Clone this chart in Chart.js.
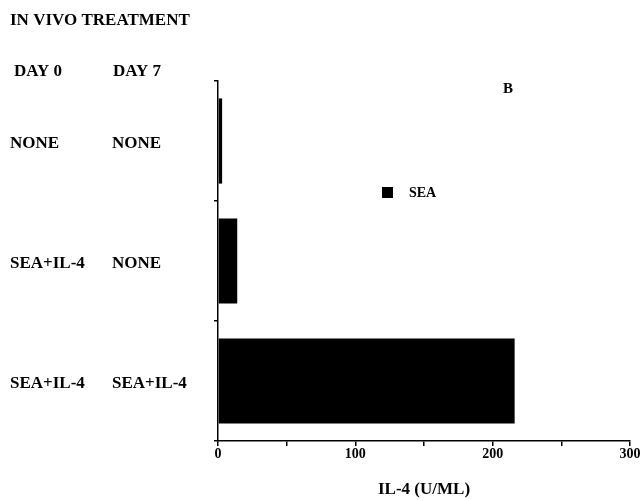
<!DOCTYPE html>
<html>
<head>
<meta charset="utf-8">
<script src="https://cdn.jsdelivr.net/npm/chart.js@4.4.1/dist/chart.umd.min.js"></script>
<style>
html,body{margin:0;padding:0;background:#fff;}
#wrap{width:641px;height:501px;position:relative;}
</style>
</head>
<body>
<div id="wrap"><canvas id="c" width="641" height="501"></canvas></div>
<script>
// ---- data ----
const headerTitle = 'IN VIVO TREATMENT';
const columnHeaders = ['DAY 0', 'DAY 7'];
const dayZero = ['NONE', 'SEA+IL-4', 'SEA+IL-4'];
const daySeven = ['NONE', 'NONE', 'SEA+IL-4'];
const categories = ['NONE / NONE', 'SEA+IL-4 / NONE', 'SEA+IL-4 / SEA+IL-4'];
const seriesName = 'SEA';
const il4Values = [3, 14, 216];
const xTickLabels = [0, 100, 200, 300];
const xAxisTitle = 'IL-4 (U/ML)';
const panelLabel = 'B';

const SERIF = '"Liberation Serif", "Times New Roman", serif';
Chart.defaults.font.family = SERIF;
Chart.defaults.color = '#000';

const annotate = {
  id: 'annotate',
  afterDraw(chart) {
    const ctx = chart.ctx;
    const y = chart.scales.y;
    ctx.save();
    ctx.fillStyle = '#000';
    ctx.textBaseline = 'middle';
    ctx.textAlign = 'left';
    ctx.font = 'bold 17px ' + SERIF;
    ctx.fillText(headerTitle, 10, 21);
    ctx.fillText(columnHeaders[0], 14, 72);
    ctx.fillText(columnHeaders[1], 113, 72);
    categories.forEach((c, i) => {
      const py = y.getPixelForValue(i) + 3;
      ctx.fillText(dayZero[i], 10, py);
      ctx.fillText(daySeven[i], 112, py);
    });
    // legend
    const ds = chart.data.datasets[0];
    ctx.fillStyle = ds.backgroundColor;
    ctx.fillRect(382, 187, 11, 11);
    ctx.fillStyle = '#000';
    ctx.font = 'bold 14px ' + SERIF;
    ctx.fillText(ds.label, 409, 193);
    // panel label
    ctx.textAlign = 'center';
    ctx.font = 'bold 15px ' + SERIF;
    ctx.fillText(panelLabel, 508, 89);
    ctx.restore();
  }
};

new Chart(document.getElementById('c'), {
  type: 'bar',
  data: {
    labels: categories,
    datasets: [{
      label: seriesName,
      data: il4Values,
      backgroundColor: '#000',
      borderWidth: 0,
      barPercentage: 0.71,
      categoryPercentage: 1
    }]
  },
  options: {
    indexAxis: 'y',
    responsive: false,
    animation: false,
    devicePixelRatio: 1,
    layout: { padding: { left: 218, top: 81, right: 11, bottom: 0 } },
    plugins: { legend: { display: false }, tooltip: { enabled: false } },
    scales: {
      x: {
        type: 'linear',
        min: 0,
        max: 300,
        afterFit: s => { s.height = 60; },
        ticks: {
          stepSize: 50,
          autoSkip: false,
          maxRotation: 0,
          padding: 0,
          font: { size: 14, weight: 'bold' },
          color: '#000',
          callback: v => xTickLabels.includes(v) ? String(v) : ''
        },
        grid: { drawOnChartArea: false, tickLength: 5, color: '#000', lineWidth: 1.5 },
        border: { color: '#000', width: 1.5 },
        title: {
          display: true,
          text: xAxisTitle,
          color: '#000',
          font: { size: 17, weight: 'bold' },
          padding: { top: 4, bottom: 1 }
        }
      },
      y: {
        type: 'category',
        afterFit: s => { s.width = 0; },
        ticks: { display: false },
        grid: { drawOnChartArea: false, offset: true, tickLength: 4, color: '#000', lineWidth: 1.5 },
        border: { color: '#000', width: 1.5 }
      }
    }
  },
  plugins: [annotate]
});
</script>
</body>
</html>
